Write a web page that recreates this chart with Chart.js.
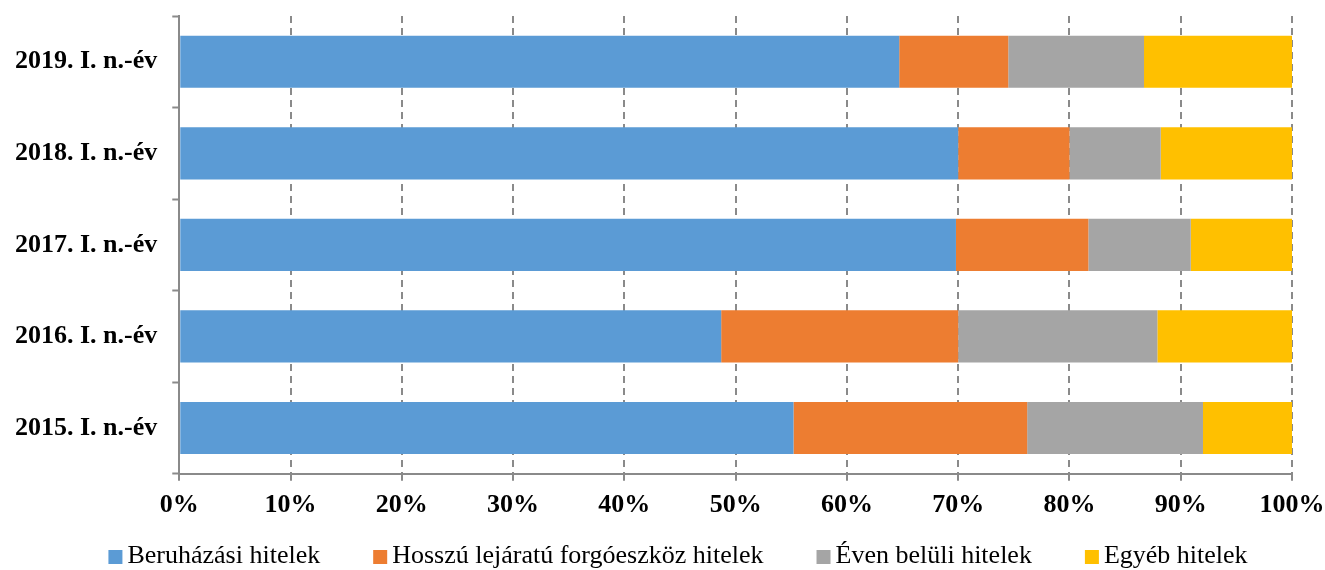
<!DOCTYPE html>
<html>
<head>
<meta charset="utf-8">
<script src="https://cdn.jsdelivr.net/npm/chart.js@4"></script>
<style>
    html, body { margin: 0; padding: 0; background: #ffffff; }
    #wrap { width: 1325px; height: 570px; position: relative; }
</style>
</head>
<body>
<div id="wrap"><canvas id="loanChart"></canvas></div>
<script>
// categories (top to bottom) and shares in percent
const years = ['2019. I. n.-év', '2018. I. n.-év', '2017. I. n.-év', '2016. I. n.-év', '2015. I. n.-év'];
const beruhazasi = [64.7, 70.0, 69.8, 48.7, 55.2];
const hosszu = [9.8, 10.0, 11.9, 21.3, 21.0];
const evenBeluli = [12.2, 8.2, 9.2, 17.9, 15.8];
const egyeb = [13.3, 11.8, 9.1, 12.1, 8.0];
const xTicks = [0, 10, 20, 30, 40, 50, 60, 70, 80, 90, 100];

const serif = "'Liberation Serif', 'Times New Roman', serif";

function makeSet(label, data, color) {
    return {
        label: label,
        data: data,
        backgroundColor: color,
        borderWidth: 0,
        barPercentage: 0.57,
        categoryPercentage: 1.0
    };
}

// Excel-like legend: small square, tight gap to text, wide gap between items
const bottomLegend = {
    id: 'bottomLegend',
    afterDraw(chart) {
        const c = chart.ctx;
        const box = 14, gap = 5, spacing = 53;
        c.save();
        c.font = '26px ' + serif;
        c.textBaseline = 'middle';
        const items = chart.data.datasets.map(ds => ({
            text: ds.label,
            color: ds.backgroundColor,
            w: c.measureText(ds.label).width
        }));
        const total = items.reduce((s, it) => s + box + gap + it.w, 0) + spacing * (items.length - 1);
        let x = 678 - total / 2;
        const y = 557;
        items.forEach(it => {
            c.fillStyle = it.color;
            c.fillRect(x, y - box / 2, box, box);
            c.fillStyle = '#000000';
            c.fillText(it.text, x + box + gap, y - 1);
            x += box + gap + it.w + spacing;
        });
        c.restore();
    }
};

const ctx = document.getElementById('loanChart');
new Chart(ctx.getContext('2d'), {
    type: 'bar',
    data: {
        labels: years,
        datasets: [
            makeSet('Beruházási hitelek', beruhazasi, '#5B9BD5'),
            makeSet('Hosszú lejáratú forgóeszköz hitelek', hosszu, '#ED7D31'),
            makeSet('Éven belüli hitelek', evenBeluli, '#A5A5A5'),
            makeSet('Egyéb hitelek', egyeb, '#FFC000')
        ]
    },
    plugins: [bottomLegend],
    options: {
        indexAxis: 'y',
        responsive: true,
        maintainAspectRatio: false,
        animation: false,
        layout: {
            padding: { top: 16, right: 0, left: 0, bottom: 40 }
        },
        plugins: {
            tooltip: { enabled: false },
            legend: { display: false }
        },
        scales: {
            x: {
                stacked: true,
                min: 0,
                max: 100,
                afterBuildTicks: (axis) => {
                    axis.ticks = xTicks.map(v => ({ value: v }));
                },
                afterFit: (scale) => {
                    scale.paddingLeft = 0;
                    scale.paddingRight = 33;
                },
                grid: {
                    color: '#8a8a8a',
                    lineWidth: 2,
                    drawTicks: true,
                    tickLength: 7,
                    tickColor: '#8a8a8a',
                    tickWidth: 2
                },
                border: {
                    display: true,
                    color: '#8a8a8a',
                    width: 2,
                    dash: [7, 5]
                },
                ticks: {
                    color: '#000000',
                    font: { family: serif, size: 26, weight: 'bold' },
                    padding: 9,
                    maxRotation: 0,
                    callback: (v) => v + '%'
                }
            },
            y: {
                stacked: true,
                afterFit: (scale) => {
                    scale.paddingTop = 0;
                    scale.paddingBottom = 0;
                },
                grid: {
                    display: true,
                    drawOnChartArea: false,
                    drawTicks: true,
                    tickLength: 7,
                    tickColor: '#8a8a8a',
                    tickWidth: 2,
                    offset: true
                },
                border: {
                    display: true,
                    color: '#8a8a8a',
                    width: 2
                },
                ticks: {
                    color: '#000000',
                    font: { family: serif, size: 26, weight: 'bold' },
                    padding: 15
                }
            }
        }
    }
});
</script>
</body>
</html>
